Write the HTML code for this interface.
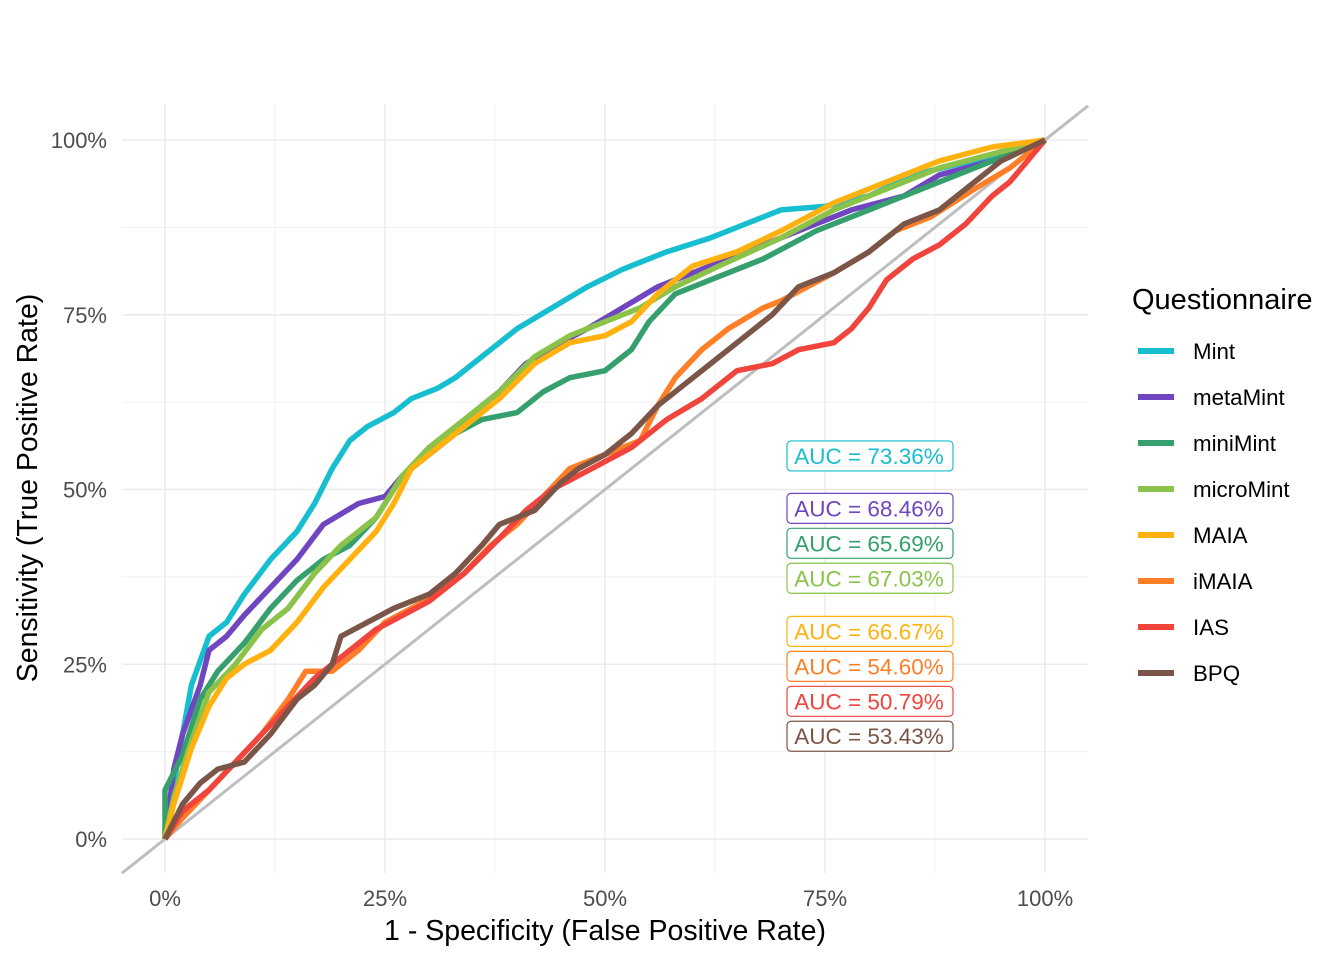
<!DOCTYPE html>
<html><head><meta charset="utf-8"><style>
body{margin:0;background:#fff;font-family:"Liberation Sans",Arial,sans-serif}
</style></head><body>
<svg id="chart" width="1344" height="960" xmlns="http://www.w3.org/2000/svg" font-family="Liberation Sans, Arial, sans-serif"></svg>
<script>
const seriesNames=["Mint","metaMint","miniMint","microMint","MAIA","iMAIA","IAS","BPQ"];
const seriesColors=["#17BECF","#7046C0","#35A06E","#8BC34A","#FFB20F","#FF7F27","#F0443C","#7B5548"];
const aucLabels=["AUC = 73.36%","AUC = 68.46%","AUC = 65.69%","AUC = 67.03%","AUC = 66.67%","AUC = 54.60%","AUC = 50.79%","AUC = 53.43%"];
const aucY=[0.548,0.473,0.423,0.373,0.297,0.247,0.197,0.147];
const xTicks=[0,0.25,0.5,0.75,1];
const yTicks=[0,0.25,0.5,0.75,1];
const tickLabels=["0%","25%","50%","75%","100%"];
const mintData=[[0,0],[0.01,0.08],[0.02,0.15],[0.03,0.22],[0.05,0.29],[0.07,0.31],[0.09,0.35],[0.12,0.40],[0.15,0.44],[0.17,0.48],[0.19,0.53],[0.21,0.57],[0.23,0.59],[0.26,0.61],[0.28,0.63],[0.31,0.645],[0.33,0.66],[0.36,0.69],[0.40,0.73],[0.44,0.76],[0.48,0.79],[0.52,0.815],[0.57,0.84],[0.62,0.86],[0.66,0.88],[0.70,0.90],[0.75,0.905],[0.80,0.92],[0.85,0.95],[0.90,0.965],[0.95,0.98],[1,1]];
const metaMintData=[[0,0],[0.01,0.1],[0.02,0.15],[0.04,0.22],[0.05,0.27],[0.07,0.29],[0.09,0.32],[0.12,0.36],[0.15,0.40],[0.18,0.45],[0.22,0.48],[0.25,0.49],[0.27,0.52],[0.30,0.55],[0.33,0.58],[0.36,0.62],[0.38,0.64],[0.41,0.68],[0.45,0.71],[0.48,0.73],[0.52,0.76],[0.56,0.79],[0.60,0.81],[0.66,0.84],[0.72,0.87],[0.78,0.90],[0.84,0.92],[0.88,0.95],[0.94,0.97],[1,1]];
const miniMintData=[[0,0],[0,0.07],[0.02,0.12],[0.04,0.2],[0.06,0.24],[0.09,0.28],[0.12,0.33],[0.15,0.37],[0.18,0.40],[0.21,0.42],[0.24,0.46],[0.27,0.52],[0.30,0.55],[0.33,0.58],[0.36,0.60],[0.40,0.61],[0.43,0.64],[0.46,0.66],[0.50,0.67],[0.53,0.70],[0.55,0.74],[0.58,0.78],[0.62,0.80],[0.68,0.83],[0.74,0.87],[0.80,0.90],[0.86,0.93],[0.92,0.96],[1,1]];
const microMintData=[[0,0],[0.01,0.06],[0.03,0.14],[0.05,0.21],[0.08,0.25],[0.11,0.30],[0.14,0.33],[0.17,0.38],[0.20,0.42],[0.24,0.46],[0.27,0.52],[0.30,0.56],[0.34,0.60],[0.38,0.64],[0.42,0.69],[0.46,0.72],[0.50,0.74],[0.54,0.76],[0.58,0.79],[0.63,0.82],[0.70,0.86],[0.76,0.90],[0.82,0.93],[0.88,0.96],[0.94,0.98],[1,1]];
const maiaData=[[0,0],[0.01,0.05],[0.03,0.13],[0.05,0.19],[0.07,0.23],[0.09,0.25],[0.12,0.27],[0.15,0.31],[0.18,0.36],[0.21,0.40],[0.24,0.44],[0.26,0.48],[0.28,0.53],[0.31,0.56],[0.34,0.59],[0.38,0.63],[0.42,0.68],[0.46,0.71],[0.50,0.72],[0.53,0.74],[0.56,0.78],[0.60,0.82],[0.65,0.84],[0.70,0.87],[0.76,0.91],[0.82,0.94],[0.88,0.97],[0.94,0.99],[1,1]];
const imaiaData=[[0,0],[0.02,0.03],[0.05,0.07],[0.08,0.11],[0.11,0.15],[0.14,0.20],[0.16,0.24],[0.19,0.24],[0.22,0.27],[0.25,0.31],[0.28,0.33],[0.31,0.35],[0.34,0.38],[0.37,0.42],[0.40,0.45],[0.43,0.49],[0.46,0.53],[0.50,0.55],[0.54,0.57],[0.56,0.62],[0.58,0.66],[0.61,0.70],[0.64,0.73],[0.68,0.76],[0.70,0.77],[0.73,0.79],[0.76,0.81],[0.80,0.84],[0.83,0.87],[0.87,0.89],[0.92,0.93],[0.96,0.96],[1,1]];
const iasData=[[0,0],[0.02,0.04],[0.05,0.07],[0.08,0.11],[0.11,0.15],[0.14,0.19],[0.17,0.23],[0.20,0.26],[0.24,0.30],[0.27,0.32],[0.30,0.34],[0.34,0.38],[0.38,0.43],[0.41,0.47],[0.44,0.50],[0.47,0.52],[0.50,0.54],[0.53,0.56],[0.57,0.60],[0.61,0.63],[0.65,0.67],[0.69,0.68],[0.72,0.70],[0.76,0.71],[0.78,0.73],[0.80,0.76],[0.82,0.80],[0.85,0.83],[0.88,0.85],[0.91,0.88],[0.94,0.92],[0.96,0.94],[0.98,0.97],[1,1]];
const bpqData=[[0,0],[0.02,0.05],[0.04,0.08],[0.06,0.10],[0.09,0.11],[0.12,0.15],[0.15,0.20],[0.17,0.22],[0.19,0.25],[0.20,0.29],[0.23,0.31],[0.26,0.33],[0.30,0.35],[0.33,0.38],[0.36,0.42],[0.38,0.45],[0.42,0.47],[0.45,0.51],[0.47,0.53],[0.50,0.55],[0.53,0.58],[0.56,0.62],[0.59,0.65],[0.62,0.68],[0.66,0.72],[0.69,0.75],[0.72,0.79],[0.76,0.81],[0.80,0.84],[0.84,0.88],[0.88,0.90],[0.91,0.93],[0.95,0.97],[1,1]];
const allData=[mintData,metaMintData,miniMintData,microMintData,maiaData,imaiaData,iasData,bpqData];

const svg=document.getElementById('chart');
const NS='http://www.w3.org/2000/svg';
const X=v=>165+v*880, Y=v=>839-v*699;
function el(tag,attrs,parent){const e=document.createElementNS(NS,tag);for(const k in attrs)e.setAttribute(k,attrs[k]);(parent||svg).appendChild(e);return e;}

const grid=el('g',{});


for(let i=0;i<4;i++){const m=(xTicks[i]+xTicks[i+1])/2;
 el('line',{x1:X(m),x2:X(m),y1:104,y2:873,stroke:'#f0f0f0','stroke-width':1},grid);
 el('line',{x1:122,x2:1088,y1:Y(m),y2:Y(m),stroke:'#f0f0f0','stroke-width':1},grid);}
xTicks.forEach(v=>el('line',{x1:X(v),x2:X(v),y1:104,y2:873,stroke:'#ebebeb','stroke-width':1.5},grid));
yTicks.forEach(v=>el('line',{x1:122,x2:1088,y1:Y(v),y2:Y(v),stroke:'#ebebeb','stroke-width':1.5},grid));

const diag=el('line',{x1:X(-0.049),y1:Y(-0.049),x2:X(1.049),y2:Y(1.049),stroke:'#bebebe','stroke-width':3});



allData.forEach((d,i)=>{
 const p=el('polyline',{points:d.map(q=>X(q[0])+','+Y(q[1])).join(' '),fill:'none',stroke:seriesColors[i],'stroke-width':5.5,'stroke-linejoin':'round'});
 
 
});

aucLabels.forEach((t,i)=>{
 const g=el('g',{});
 
 
 const cy=Y(aucY[i]);
 el('rect',{x:787,y:cy-15,width:166,height:30,rx:4,fill:'#fff',stroke:seriesColors[i],'stroke-width':1.2},g);
 const tx=el('text',{x:869,y:cy+8,'text-anchor':'middle','font-size':22.5,fill:seriesColors[i]},g);tx.textContent=t;
});

xTicks.forEach((v,i)=>{const t=el('text',{x:X(v),y:906,'text-anchor':'middle','font-size':22,fill:'#4d4d4d'});t.textContent=tickLabels[i];
 });
yTicks.forEach((v,i)=>{const t=el('text',{x:107,y:Y(v)+8,'text-anchor':'end','font-size':22,fill:'#4d4d4d'});t.textContent=tickLabels[i];
 });

const xt=el('text',{x:605,y:940,'text-anchor':'middle','font-size':28.5,fill:'#000'});xt.textContent='1 - Specificity (False Positive Rate)';

const yt=el('text',{x:0,y:0,'text-anchor':'middle','font-size':28.5,fill:'#000',transform:'translate(37,488) rotate(-90)'});yt.textContent='Sensitivity (True Positive Rate)';


const lg=el('g',{});


const lt=el('text',{x:1132,y:309,'font-size':29,fill:'#000'},lg);lt.textContent='Questionnaire';
seriesNames.forEach((n,i)=>{
 const g=el('g',{},lg);
 
 
 const cy=351+i*46;
 el('line',{x1:1138,x2:1174,y1:cy,y2:cy,stroke:seriesColors[i],'stroke-width':6},g);
 const t=el('text',{x:1193,y:cy+8,'font-size':22.3,fill:'#000'},g);t.textContent=n;
});
</script>
</body></html>
